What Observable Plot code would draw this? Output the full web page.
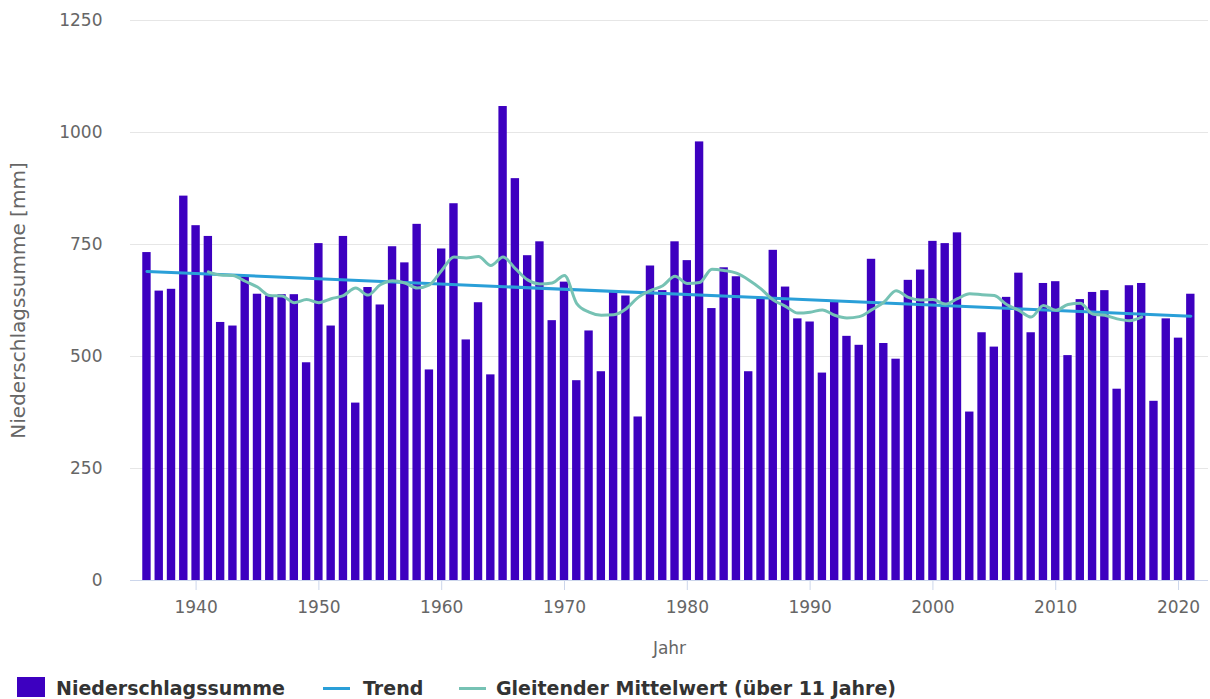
<!DOCTYPE html>
<html>
<head>
<meta charset="utf-8">
<script src="https://cdn.jsdelivr.net/npm/d3@7"></script>
<script src="https://cdn.jsdelivr.net/npm/@observablehq/plot@0.6"></script>
<style>
  body { margin: 0; background: #fff; font-family: "DejaVu Sans", sans-serif; }
  #wrap { position: relative; width: 1210px; height: 699px; overflow: hidden; }
  .lg { position: absolute; top: 677px; height: 22px; line-height: 22px; font-weight: bold; font-size: 19px; color: #333; white-space: nowrap; }
  .sw { position: absolute; }
</style>
</head>
<body>
<div id="wrap">
  <div id="chart"></div>
  <div class="sw" id="swBar" style="left:17px;top:677px;width:28px;height:20px;"></div>
  <div class="lg" id="lgBar" style="left:56px;"></div>
  <div class="sw" id="swTrend" style="left:323px;top:687px;width:27px;height:3px;"></div>
  <div class="lg" id="lgTrend" style="left:363px;"></div>
  <div class="sw" id="swMa" style="left:459px;top:687px;width:27px;height:3px;"></div>
  <div class="lg" id="lgMa" style="left:496px;"></div>
</div>
<script>
// ---- data ----
const firstYear = 1936;
const precipitation = [
  732, 646, 650, 858, 792, 768, 576, 568, 678, 639,
  635, 638, 638, 486, 752, 568, 768, 396, 654, 615,
  745, 709, 795, 470, 740, 841, 537, 620, 459, 1058,
  897, 725, 756, 580, 666, 446, 557, 466, 644, 635,
  365, 702, 647, 756, 714, 979, 607, 698, 678, 466,
  632, 737, 655, 584, 577, 463, 624, 545, 525, 717,
  529, 494, 670, 693, 757, 752, 776, 376, 553, 521,
  632, 686, 553, 663, 667, 502, 627, 643, 647, 427,
  658, 663, 400, 584, 541, 639
];
const maFirstYear = 1941;
const movingAverage = [
  689, 682, 681, 668, 655, 636, 635, 620, 627, 620,
  629, 636, 653, 637, 660, 669, 664, 653, 660, 692,
  722, 720, 723, 703, 722, 696, 671, 662, 664, 681,
  618, 599, 592, 593, 606, 632, 647, 658, 679, 663,
  665, 695, 692, 686, 671, 651, 626, 612, 597, 599,
  604, 592, 586, 589, 604, 621, 647, 632, 626, 627,
  617, 629, 640, 638, 636, 616, 603, 588, 614, 603,
  616, 619, 595, 592, 584, 580, 588
];
const trendYears = [1936, 2021];
const trendValues = [690, 590];
const xTicks = [1940, 1950, 1960, 1970, 1980, 1990, 2000, 2010, 2020];
const yTicks = [0, 250, 500, 750, 1000, 1250];

const seriesNames = ["Niederschlagssumme", "Trend", "Gleitender Mittelwert (über 11 Jahre)"];
const colors = ["#3d00c0", "#2a9fd8", "#76c2b4"];

// ---- tables ----
const bars = precipitation.map((v, i) => ({year: firstYear + i, value: v}));
const ma = movingAverage.map((v, i) => ({year: maFirstYear + i, value: v}));
const trend = trendYears.map((y, i) => ({year: y, value: trendValues[i]}));

const chart = Plot.plot({
  width: 1210,
  height: 660,
  marginLeft: 130,
  marginRight: 2,
  marginTop: 20,
  marginBottom: 80,
  style: {fontFamily: "DejaVu Sans, sans-serif", fontSize: "17px", color: "#666", background: "#fff"},
  x: {domain: [1934.66, 2022.44]},
  y: {domain: [0, 1250]},
  marks: [
    Plot.gridY(yTicks.filter(t => t > 0), {stroke: "#e6e6e6", strokeOpacity: 1, strokeWidth: 1}),
    Plot.rectY(bars, {
      x1: d => d.year - 0.5,
      x2: d => d.year + 0.5,
      y: "value",
      insetLeft: 1.95,
      insetRight: 1.95,
      fill: colors[0]
    }),
    Plot.ruleY([0], {stroke: "#ccd6eb", strokeWidth: 1}),
    Plot.line(trend, {x: "year", y: "value", stroke: colors[1], strokeWidth: 3}),
    Plot.line(ma, {x: "year", y: "value", stroke: colors[2], strokeWidth: 3, curve: "monotone-x"}),
    Plot.axisY({
      ticks: yTicks, tickFormat: "d", tickSize: 0, tickPadding: 28, fontSize: 17, fill: "#666",
      label: null
    }),
    Plot.axisY({
      ticks: [], label: "Niederschlagssumme [mm]", labelAnchor: "center",
      labelArrow: "none", labelOffset: 120, fontSize: 20, fill: "#666"
    }),
    Plot.axisX({
      ticks: xTicks, tickFormat: "d", tickSize: 10, tickPadding: 10,
      stroke: "#ccd6eb", strokeOpacity: 1, fill: "#666", fontSize: 17,
      label: "Jahr", labelAnchor: "center", labelArrow: "none", labelOffset: 73
    })
  ]
});
document.getElementById("chart").appendChild(chart);

// ---- legend ----
document.getElementById("swBar").style.background = colors[0];
document.getElementById("swTrend").style.background = colors[1];
document.getElementById("swMa").style.background = colors[2];
document.getElementById("lgBar").textContent = seriesNames[0];
document.getElementById("lgTrend").textContent = seriesNames[1];
document.getElementById("lgMa").textContent = seriesNames[2];
</script>
</body>
</html>
